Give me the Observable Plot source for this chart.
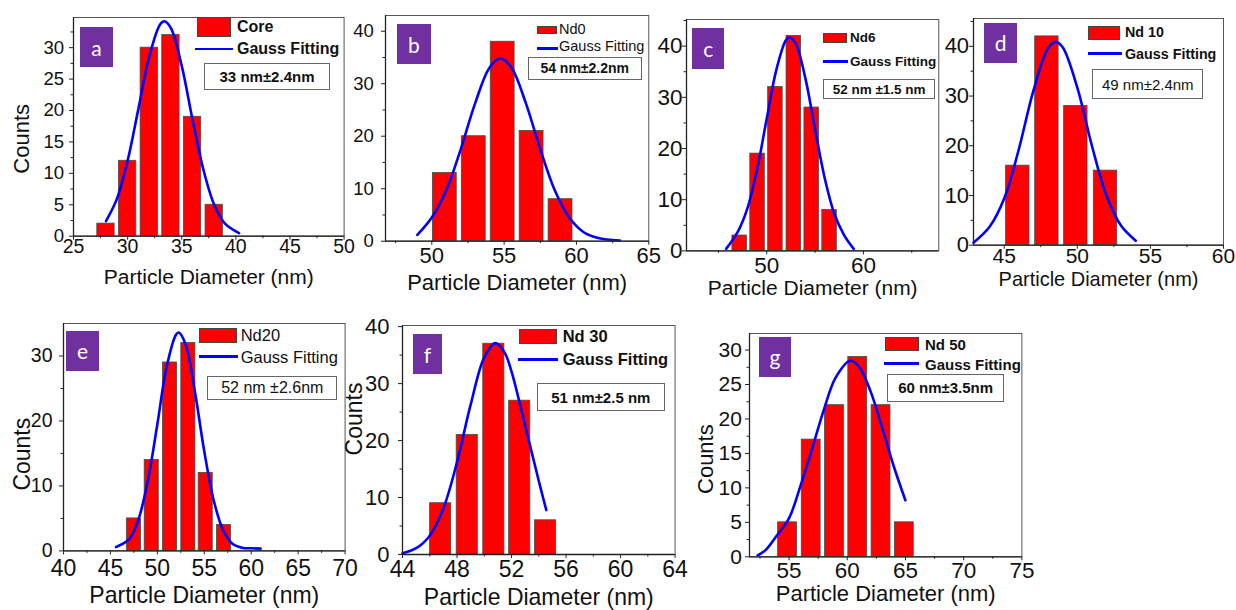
<!DOCTYPE html>
<html>
<head>
<meta charset="utf-8">
<script src="https://cdn.jsdelivr.net/npm/d3@7"></script>
<script src="https://cdn.jsdelivr.net/npm/@observablehq/plot@0.6"></script>
<style>
  html, body { margin: 0; padding: 0; background: #fff; }
  #chart { position: relative; width: 1236px; height: 610px; overflow: hidden; background: #fff; font-family: "Liberation Sans", Arial, sans-serif; }
  .ov { position: absolute; box-sizing: border-box; }
  .lt { position: absolute; white-space: nowrap; color: #111; font-family: "Liberation Sans", Arial, sans-serif; }
</style>
</head>
<body>
<div id="chart"></div>
<script>
// ---------------- data ----------------
const panelLetters = ["a", "b", "c", "d", "e", "f", "g"];
const seriesNames = ["Core", "Nd0", "Nd6", "Nd 10", "Nd20", "Nd 30", "Nd 50"];
const fitName = "Gauss Fitting";
const sizeNotes = ["33 nm±2.4nm", "54 nm±2.2nm", "52 nm ±1.5 nm", "49 nm±2.4nm", "52 nm ±2.6nm", "51 nm±2.5 nm", "60 nm±3.5nm"];
const xTitle = "Particle Diameter (nm)";
const yTitle = "Counts";

// bin centres (nm) and counts
const aBins = [28, 30, 32, 34, 36, 38];
const aCounts = [2, 12, 30, 32, 19, 5];
const bBins = [50.9, 52.9, 54.9, 56.9, 58.9];
const bCounts = [13, 20, 38, 21, 8];
const cBins = [47.2, 49.05, 50.9, 52.8, 54.65, 56.5];
const cCounts = [3, 19, 32, 42, 28, 8];
const dBins = [45.93, 47.92, 49.9, 51.93];
const dCounts = [16, 42, 28, 15];
const eBins = [47.5, 49.4, 51.35, 53.3, 55.15, 57.1];
const eCounts = [5, 14, 29, 32, 12, 4];
const fBins = [46.8, 48.75, 50.7, 52.6, 54.5];
const fCounts = [9, 21, 37, 27, 6];
const gBins = [54.87, 56.9, 58.9, 60.9, 62.9, 64.9];
const gCounts = [5, 17, 22, 29, 22, 5];

// Gauss fitting curves
const aFitX = [28, 29, 30, 31, 32, 33, 33.4, 34, 35, 36, 37, 38, 39, 40.3];
const aFitY = [2.4, 5.9, 12.0, 20.3, 28.6, 33.7, 34.2, 33.1, 27.1, 18.5, 10.6, 5.0, 2.0, 0.5];
const bFitX = [49, 50, 51, 52, 53, 54, 54.75, 55.5, 56.5, 57.5, 58.5, 59.5, 60.5, 61.5, 63];
const bFitY = [1.2, 4.5, 9.7, 17.5, 26.3, 33.1, 34.8, 33.1, 26.3, 17.5, 9.7, 4.5, 1.7, 0.6, 0.1];
const cFitX = [45.8, 47, 48, 49, 50, 51, 52, 52.4, 53, 54, 55, 56, 57, 58, 59];
const cFitY = [0.4, 3.7, 8.3, 15.9, 25.8, 35.4, 41.2, 41.7, 40.5, 33.7, 23.7, 14.2, 7.2, 3.1, 0.4];
const dFitX = [42.9, 44, 45, 46, 47, 48, 48.53, 49, 50, 51, 52, 53, 54];
const dFitY = [0.5, 3.7, 9.4, 19.3, 31.1, 39.6, 40.9, 39.8, 31.7, 20.0, 9.9, 3.9, 0.9];
const eFitX = [45.6, 47, 48, 49, 50, 51, 52, 52.27, 53, 54, 55, 56, 57, 58, 59, 60, 61];
const eFitY = [0.6, 1.8, 4.9, 10.9, 19.5, 28.4, 33.3, 33.6, 31.8, 24.5, 15.3, 7.8, 3.2, 1.1, 0.5, 0.4, 0.35];
const fFitX = [44, 45, 46, 47, 48, 49, 50, 50.82, 51.5, 52, 53, 54, 54.55];
const fFitY = [0.2, 1.1, 3.3, 8.1, 16.2, 26.3, 34.6, 37.1, 35.4, 32.1, 22.6, 12.9, 7.8];
const gFitX = [52.3, 53, 54, 55, 56, 57, 58, 59, 60.26, 61, 62, 63, 64, 64.99];
const gFitY = [0.2, 1.0, 3.2, 5.6, 10.4, 15.8, 21.4, 26.0, 28.45, 27.6, 24.0, 18.7, 13.1, 8.2];

// axis ticks
const aXTicks = [25, 30, 35, 40, 45, 50], aXMinor = [27.5, 32.5, 37.5, 42.5, 47.5];
const aYTicks = [0, 5, 10, 15, 20, 25, 30], aYMinor = [2.5, 7.5, 12.5, 17.5, 22.5, 27.5, 32.5];
const bXTicks = [50, 55, 60, 65], bXMinor = [47.5, 52.5, 57.5, 62.5];
const bYTicks = [0, 10, 20, 30, 40], bYMinor = [5, 15, 25, 35];
const cXTicks = [50, 60], cXMinor = [45, 55, 65];
const cYTicks = [0, 10, 20, 30, 40], cYMinor = [5, 15, 25, 35, 45];
const dXTicks = [45, 50, 55, 60], dXMinor = [47.5, 52.5, 57.5];
const dYTicks = [0, 10, 20, 30, 40], dYMinor = [5, 15, 25, 35, 45];
const eXTicks = [40, 45, 50, 55, 60, 65, 70], eXMinor = [42.5, 47.5, 52.5, 57.5, 62.5, 67.5];
const eYTicks = [0, 10, 20, 30], eYMinor = [5, 15, 25];
const fXTicks = [44, 48, 52, 56, 60, 64], fXMinor = [46, 50, 54, 58, 62];
const fYTicks = [0, 10, 20, 30, 40], fYMinor = [5, 15, 25, 35];
const gXTicks = [55, 60, 65, 70, 75], gXMinor = [52.5, 57.5, 62.5, 67.5, 72.5];
const gYTicks = [0, 5, 10, 15, 20, 25, 30], gYMinor = [2.5, 7.5, 12.5, 17.5, 22.5, 27.5];

// ---------------- layout (page pixels) ----------------
const panels = [
  {bins: aBins, counts: aCounts, fx: aFitX, fy: aFitY, xt: aXTicks, xm: aXMinor, yt: aYTicks, ym: aYMinor,
   frame: [72.7, 17.3, 343.3, 236], xDom: [25, 50], yDom: [0, 34.8], barW: 1.6,
   xFont: 19.5, yFont: 18.6, xGap: 3.3, yGap: 9.3, labSize: 21, labDy: 41, yLab: {dx: -52, dy: 12, size: 22},
   tag: [80, 27, 33, 40], swatch: [197, 17, 34, 20], line: [195, 233, 49], textX: 237, nameY: 27, fitY: 49,
   legSize: 16, legBold: true, info: [204, 63, 126, 27], infoSize: 15, infoBold: true},
  {bins: bBins, counts: bCounts, fx: bFitX, fy: bFitY, xt: bXTicks, xm: bXMinor, yt: bYTicks, ym: bYMinor,
   frame: [385, 15, 648.3, 240.7], xDom: [46.8, 65], yDom: [0, 43], barW: 1.65,
   xFont: 22, yFont: 18.5, xGap: 6, yGap: 11.7, labSize: 22, labDy: 42, yLab: null,
   tag: [397.3, 24, 33.4, 40.3], swatch: [536.7, 26, 20.6, 8], line: [536.7, 558.3, 48.3], textX: 559, nameY: 29.3, fitY: 46.7,
   legSize: 14.5, legBold: false, info: [527.7, 56.7, 114, 23.3], infoSize: 14, infoBold: true},
  {bins: cBins, counts: cCounts, fx: cFitX, fy: cFitY, xt: cXTicks, xm: cXMinor, yt: cYTicks, ym: cYMinor,
   frame: [685.7, 19.3, 938, 250.7], xDom: [41.7, 67.8], yDom: [0, 45.2], barW: 1.5,
   xFont: 22.5, yFont: 22.5, xGap: 6, yGap: 4, labSize: 21, labDy: 37, yLab: null,
   tag: [692.3, 28.3, 31.7, 40.7], swatch: [822.7, 32.7, 24, 10.6], line: [822.7, 848.3, 61.7], textX: 850, nameY: 37.3, fitY: 61.7,
   legSize: 13.5, legBold: true, info: [823.3, 79, 111.7, 20.3], infoSize: 13.5, infoBold: true},
  {bins: dBins, counts: dCounts, fx: dFitX, fy: dFitY, xt: dXTicks, xm: dXMinor, yt: dYTicks, ym: dYMinor,
   frame: [972.7, 18.3, 1222.7, 245], xDom: [42.9, 60], yDom: [0, 45.6], barW: 1.6,
   xFont: 21, yFont: 22, xGap: 3, yGap: 4.4, labSize: 20, labDy: 34, yLab: null,
   tag: [984, 22.7, 33.3, 40.6], swatch: [1088.3, 26, 31.7, 14], line: [1088.3, 1121.7, 53.3], textX: 1125, nameY: 32.3, fitY: 54,
   legSize: 14.3, legBold: true, info: [1092.3, 69.3, 111, 30], infoSize: 15, infoBold: false},
  {bins: eBins, counts: eCounts, fx: eFitX, fy: eFitY, xt: eXTicks, xm: eXMinor, yt: eYTicks, ym: eYMinor,
   frame: [62.7, 323.3, 344.3, 550.7], xDom: [40, 70], yDom: [0, 35], barW: 1.5,
   xFont: 23, yFont: 19.5, xGap: 9, yGap: 11, labSize: 23, labDy: 45, yLab: {dx: -41, dy: 17, size: 23},
   tag: [66, 330.7, 33.3, 40.3], swatch: [199.3, 328.3, 37.4, 14.4], line: [199.3, 238.3, 356.7], textX: 240.7, nameY: 335, fitY: 357.3,
   legSize: 16.5, legBold: false, info: [207.3, 376, 130, 24], infoSize: 16, infoBold: false},
  {bins: fBins, counts: fCounts, fx: fFitX, fy: fFitY, xt: fXTicks, xm: fXMinor, yt: fYTicks, ym: fYMinor,
   frame: [401.7, 325, 674.3, 554], xDom: [44, 64], yDom: [0, 40.2], barW: 1.55,
   xFont: 23, yFont: 22, xGap: 6.5, yGap: 13, labSize: 23, labDy: 43, yLab: {dx: -48, dy: -21, size: 23},
   tag: [413.3, 334, 28.4, 40], swatch: [519, 329.3, 37.7, 15], line: [518.3, 558.3, 359.3], textX: 562.7, nameY: 336.7, fitY: 359.3,
   legSize: 16.5, legBold: true, info: [536.7, 383.3, 128.3, 27.7], infoSize: 15, infoBold: true},
  {bins: gBins, counts: gCounts, fx: gFitX, fy: gFitY, xt: gXTicks, xm: gXMinor, yt: gYTicks, ym: gYMinor,
   frame: [749.3, 332.7, 1021.7, 556], xDom: [51.6, 75], yDom: [0, 32.4], barW: 1.62,
   xFont: 22.5, yFont: 21, xGap: 5.5, yGap: 7.6, labSize: 22, labDy: 37, yLab: {dx: -44, dy: 14, size: 22},
   tag: [759, 336.7, 32, 40.6], swatch: [885, 337.3, 34, 13.7], line: [884, 919.3, 363.3], textX: 925, nameY: 344.3, fitY: 364,
   legSize: 15, legBold: true, info: [887.3, 374, 116.7, 27.7], infoSize: 15, infoBold: true}
];

const chart = document.getElementById("chart");
const FONT = "Liberation Sans, Arial, sans-serif";
const TS = 4; // major tick size

function overlayBox(x, y, w, h, css) {
  const d = document.createElement("div");
  d.className = "ov";
  Object.assign(d.style, {left: x + "px", top: y + "px", width: w + "px", height: h + "px"}, css);
  chart.appendChild(d);
  return d;
}
function overlayText(x, yc, str, size, bold) {
  const d = document.createElement("div");
  d.className = "lt";
  d.textContent = str;
  Object.assign(d.style, {left: x + "px", top: (yc - size / 2) + "px", fontSize: size + "px", lineHeight: size + "px", fontWeight: bold ? "bold" : "normal"});
  chart.appendChild(d);
  return d;
}

panels.forEach((p, k) => {
  const [L, T, R, B] = p.frame;
  const mL = 80, mR = 10, mT = 10, mB = 80;
  const idx = d3.range(p.bins.length);
  const fidx = d3.range(p.fx.length);
  const marks = [
    Plot.rect(idx, {
      x1: i => p.bins[i] - p.barW / 2, x2: i => p.bins[i] + p.barW / 2,
      y1: 0, y2: i => p.counts[i],
      fill: "#ff0000", stroke: "#4a4a4a", strokeWidth: 0.8
    }),
    Plot.line(fidx, {x: i => p.fx[i], y: i => p.fy[i], stroke: "#0000ff", strokeWidth: 2.6, curve: "catmull-rom"}),
    Plot.frame({stroke: "#555", strokeWidth: 1}),
    Plot.ruleX([p.xDom[0]], {stroke: "#222", strokeWidth: 1.3}),
    Plot.ruleY([p.yDom[0]], {stroke: "#222", strokeWidth: 1.3}),
    Plot.axisX({ticks: p.xt, tickSize: TS, tickPadding: p.xGap - TS, fontSize: p.xFont, label: null, stroke: "#222"}),
    Plot.axisX({ticks: p.xm, tickSize: 2.5, tickFormat: () => "", label: null, stroke: "#222"}),
    Plot.axisY({ticks: p.yt, tickSize: TS, tickPadding: p.yGap - TS, fontSize: p.yFont, label: null, stroke: "#222"}),
    Plot.axisY({ticks: p.ym, tickSize: 2.5, tickFormat: () => "", label: null, stroke: "#222"}),
    Plot.text([xTitle], {text: d => d, frameAnchor: "bottom", dy: p.labDy, fontSize: p.labSize, lineAnchor: "middle", textAnchor: "middle", fill: "#111"})
  ];
  if (p.yLab) {
    marks.push(Plot.text([yTitle], {text: d => d, frameAnchor: "left", dx: p.yLab.dx, dy: p.yLab.dy, rotate: -90,
      fontSize: p.yLab.size, lineAnchor: "middle", textAnchor: "middle", fill: "#111"}));
  }
  const svg = Plot.plot({
    width: (R - L) + mL + mR,
    height: (B - T) + mT + mB,
    marginLeft: mL, marginRight: mR, marginTop: mT, marginBottom: mB,
    x: {domain: p.xDom},
    y: {domain: p.yDom},
    style: {fontFamily: FONT, color: "#111", background: "transparent", overflow: "visible", fontSize: "16px"},
    marks
  });
  svg.style.position = "absolute";
  svg.style.left = (L - mL) + "px";
  svg.style.top = (T - mT) + "px";
  svg.style.maxWidth = "none";
  chart.appendChild(svg);

  // panel letter tag
  const tg = overlayBox(p.tag[0], p.tag[1], p.tag[2], p.tag[3], {
    background: "#7030a0", color: "#fff", display: "flex", alignItems: "center", justifyContent: "center",
    fontFamily: "Lato, 'Open Sans', sans-serif", fontSize: "21px"
  });
  tg.textContent = panelLetters[k];

  // legend
  overlayBox(p.swatch[0], p.swatch[1], p.swatch[2], p.swatch[3], {background: "#ff0000", border: "1px solid #444"});
  overlayBox(p.line[0], p.line[2] - 1.3, p.line[1] - p.line[0], 2.6, {background: "#0000ff"});
  overlayText(p.textX, p.nameY, seriesNames[k], p.legSize, p.legBold);
  overlayText(p.textX, p.fitY, fitName, p.legSize, p.legBold);

  // size annotation box
  const ib = overlayBox(p.info[0], p.info[1], p.info[2], p.info[3], {
    border: "1px solid #666", background: "#fff", display: "flex", alignItems: "center", justifyContent: "center",
    fontFamily: FONT, fontSize: p.infoSize + "px", fontWeight: p.infoBold ? "bold" : "normal", color: "#111", whiteSpace: "nowrap"
  });
  ib.textContent = sizeNotes[k];
});
</script>
</body>
</html>
